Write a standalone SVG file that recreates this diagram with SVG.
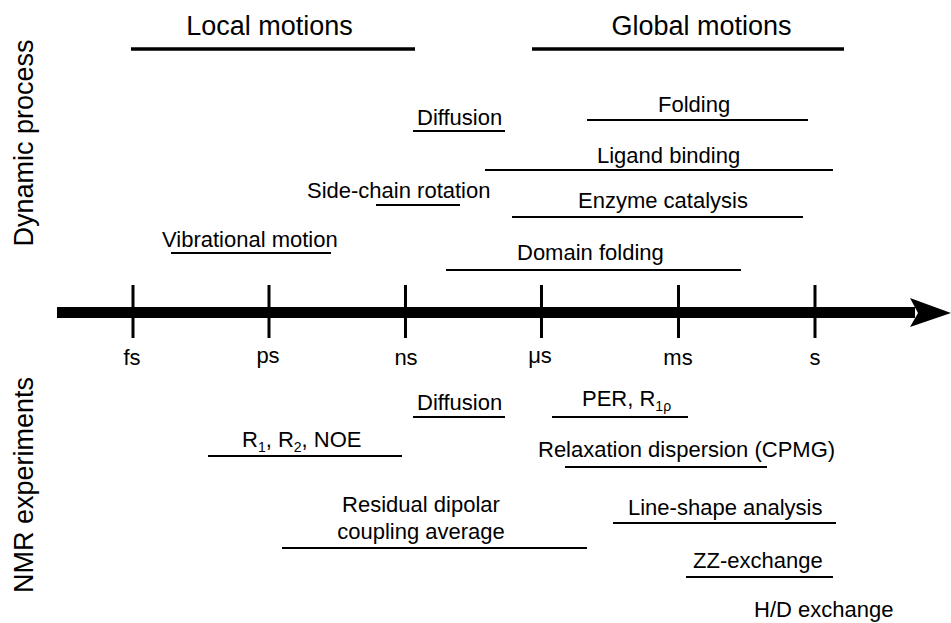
<svg xmlns="http://www.w3.org/2000/svg" width="951" height="623" viewBox="0 0 951 623">
<style>
text{font-family:"Liberation Sans",Arial,sans-serif;fill:#000}
.h{font-size:27px;text-anchor:middle}
.l{font-size:22px}
.t{font-size:22px;text-anchor:middle}
.side{font-size:27px;text-anchor:middle}
.bar{stroke:#000;stroke-width:2.2;fill:none}
.hbar{stroke:#000;stroke-width:3.5;fill:none}
.tick{stroke:#000;stroke-width:3;fill:none}
.sub{font-size:14px}
</style>
<rect width="951" height="623" fill="#fff"/>
<g id="side-labels">
<text class="side" transform="translate(33,143) rotate(-90)">Dynamic process</text>
<text class="side" transform="translate(33,485) rotate(-90)">NMR experiments</text>
</g>
<g id="axis">
<rect x="57" y="307" width="858" height="11" fill="#000"/>
<path d="M910,298 L951,313 L910,327 L918,313 Z" fill="#000"/>
<line class="tick" x1="133" y1="285" x2="133" y2="338"/>
<line class="tick" x1="269" y1="285" x2="269" y2="338"/>
<line class="tick" x1="405.5" y1="285" x2="405.5" y2="338"/>
<line class="tick" x1="541.5" y1="285" x2="541.5" y2="338"/>
<line class="tick" x1="678.5" y1="285" x2="678.5" y2="338"/>
<line class="tick" x1="815" y1="285" x2="815" y2="338"/>
<text class="t" x="132" y="365">fs</text>
<text class="t" x="268" y="363">ps</text>
<text class="t" x="406" y="365">ns</text>
<text class="t" x="540" y="363">μs</text>
<text class="t" x="678" y="365">ms</text>
<text class="t" x="815" y="365">s</text>
</g>
<g id="local-motions">
<line class="hbar" x1="131" y1="49" x2="415" y2="49"/>
<text class="h" x="269.5" y="35">Local motions</text>
</g>
<g id="global-motions">
<line class="hbar" x1="532" y1="49" x2="844" y2="49"/>
<text class="h" x="701.5" y="35">Global motions</text>
</g>
<g id="dyn-diffusion">
<line class="bar" x1="413" y1="131" x2="505" y2="131"/>
<text class="l" x="417" y="125">Diffusion</text>
</g>
<g id="folding">
<line class="bar" x1="587" y1="120" x2="808" y2="120"/>
<text class="l" x="658" y="112">Folding</text>
</g>
<g id="ligand-binding">
<line class="bar" x1="485" y1="170" x2="833" y2="170"/>
<text class="l" x="597" y="163">Ligand binding</text>
</g>
<g id="side-chain-rotation">
<line class="bar" x1="376" y1="205" x2="460" y2="205"/>
<text class="l" x="307" y="198">Side-chain rotation</text>
</g>
<g id="enzyme-catalysis">
<line class="bar" x1="512" y1="217" x2="803" y2="217"/>
<text class="l" x="578" y="208">Enzyme catalysis</text>
</g>
<g id="vibrational-motion">
<line class="bar" x1="171" y1="253" x2="331" y2="253"/>
<text class="l" x="162" y="247">Vibrational motion</text>
</g>
<g id="domain-folding">
<line class="bar" x1="446" y1="270" x2="741" y2="270"/>
<text class="l" x="517" y="260">Domain folding</text>
</g>
<g id="nmr-diffusion">
<line class="bar" x1="413" y1="417" x2="505" y2="417"/>
<text class="l" x="417" y="410">Diffusion</text>
</g>
<g id="per-r1rho">
<line class="bar" x1="552" y1="417" x2="688" y2="417"/>
<text class="l" x="582" y="406">PER, R<tspan class="sub" dy="5">1ρ</tspan></text>
</g>
<g id="r1-r2-noe">
<line class="bar" x1="208" y1="456" x2="402" y2="456"/>
<text class="l" x="242" y="447">R<tspan class="sub" dy="5">1</tspan><tspan dy="-5">, R</tspan><tspan class="sub" dy="5">2</tspan><tspan dy="-5">, NOE</tspan></text>
</g>
<g id="relaxation-dispersion">
<line class="bar" x1="565" y1="467" x2="767" y2="467"/>
<text class="l" x="538" y="457">Relaxation dispersion (CPMG)</text>
</g>
<g id="rdc">
<line class="bar" x1="282" y1="548" x2="587" y2="548"/>
<text class="t" x="421" y="512">Residual dipolar</text>
<text class="t" x="421" y="539">coupling average</text>
</g>
<g id="line-shape">
<line class="bar" x1="613" y1="523" x2="836" y2="523"/>
<text class="l" x="628" y="515">Line-shape analysis</text>
</g>
<g id="zz-exchange">
<line class="bar" x1="686" y1="577" x2="833" y2="577"/>
<text class="l" x="693" y="568">ZZ-exchange</text>
</g>
<g id="hd-exchange">
<text class="l" x="754" y="617">H/D exchange</text>
</g>
</svg>
